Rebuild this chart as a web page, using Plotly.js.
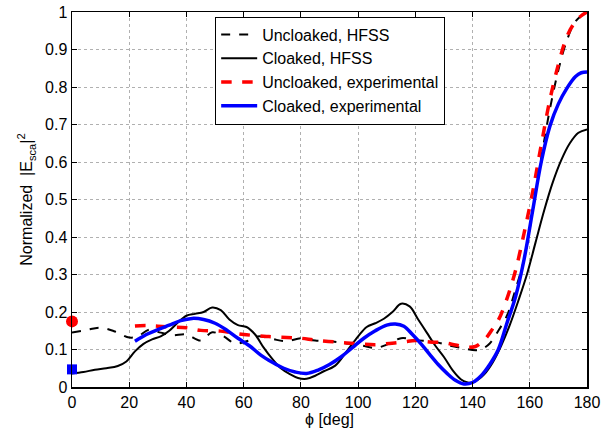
<!DOCTYPE html>
<html>
<head>
<meta charset="utf-8">
<script src="https://cdn.plot.ly/plotly-3.0.1.min.js"></script>
<style>html,body{margin:0;padding:0;background:#fff;}#chart{width:610px;height:428px;}</style>
</head>
<body>
<div id="chart"></div>
<script>
// Uncloaked, HFSS
const uncHfssX = [0,5,10,15,20,23,27,31,35,40,45,49,53,57,61,65,70,75,80,85,90,96,101,106,110,115,120,127,132,137,141,143,146,149,152,155,158,161,164,167,170,173,176,180];
const uncHfssY = [0.145,0.152,0.158,0.148,0.132,0.135,0.153,0.145,0.138,0.14,0.124,0.146,0.135,0.116,0.122,0.135,0.128,0.122,0.13,0.124,0.122,0.116,0.111,0.104,0.113,0.13,0.125,0.12,0.11,0.103,0.098,0.1,0.116,0.15,0.19,0.26,0.34,0.47,0.61,0.74,0.845,0.925,0.975,1.0];
// Cloaked, HFSS
const clkHfssX = [0,4,8,12,16,19,22,25,28,31,34,37,40,43,46,49,52,55,58,61,64,67,70,73,76,79,82,85,88,92,96,100,103,106,109,112,115,118,121,124,127,130,133,136,138,140,142,144,147,150,153,156,159,162,165,168,171,174,177,180];
const clkHfssY = [0.036,0.04,0.046,0.05,0.056,0.068,0.095,0.115,0.127,0.135,0.15,0.172,0.19,0.195,0.2,0.212,0.205,0.18,0.165,0.16,0.14,0.105,0.075,0.05,0.035,0.024,0.022,0.03,0.042,0.057,0.095,0.135,0.16,0.17,0.182,0.2,0.222,0.215,0.18,0.145,0.11,0.08,0.045,0.02,0.013,0.012,0.02,0.033,0.065,0.11,0.165,0.23,0.3,0.385,0.47,0.545,0.605,0.65,0.678,0.687];
// Uncloaked, experimental
const uncExpX = [22,26,30,35,40,45,52,60,68,75,80,85,92,99,106,111,116,120,125,130,134,138,141,143,145,147,149,152,155,158,161,164,167,170,173,176,178,180];
const uncExpY = [0.163,0.164,0.162,0.16,0.158,0.151,0.149,0.14,0.135,0.132,0.13,0.125,0.12,0.116,0.113,0.116,0.12,0.124,0.12,0.118,0.112,0.106,0.108,0.118,0.133,0.155,0.178,0.235,0.31,0.41,0.52,0.645,0.765,0.86,0.935,0.975,0.99,1.0];
// Cloaked, experimental
const clkExpX = [22,26,30,34,38,42,46,50,54,58,62,66,70,74,78,82,86,90,94,98,102,106,110,113,116,119,122,125,128,131,134,137,140,143,146,149,152,155,158,161,164,167,170,173,176,178,180];
const clkExpY = [0.122,0.14,0.153,0.165,0.177,0.183,0.18,0.17,0.152,0.13,0.11,0.085,0.066,0.05,0.04,0.036,0.045,0.06,0.08,0.105,0.13,0.15,0.165,0.168,0.162,0.14,0.115,0.087,0.06,0.037,0.018,0.008,0.012,0.03,0.06,0.1,0.17,0.24,0.34,0.47,0.6,0.695,0.755,0.797,0.828,0.838,0.84];
// Single-point markers at phi = 0
const markerRedX = [0], markerRedY = [0.175];
const markerBlueX = [0], markerBlueY = [0.047];

const names = ['Uncloaked, HFSS','Cloaked, HFSS','Uncloaked, experimental','Cloaked, experimental'];

const traces = [
  {x: uncHfssX, y: uncHfssY, name: names[0], mode:'lines', line:{color:'#000', width:2, dash:'dash', shape:'spline'}},
  {x: clkHfssX, y: clkHfssY, name: names[1], mode:'lines', line:{color:'#000', width:2, shape:'spline'}},
  {x: uncExpX, y: uncExpY, name: names[2], mode:'lines', line:{color:'#ff0000', width:3.5, dash:'dash', shape:'spline'}},
  {x: clkExpX, y: clkExpY, name: names[3], mode:'lines', line:{color:'#0000ff', width:3.5, shape:'spline'}},
  {x: markerRedX, y: markerRedY, mode:'markers', showlegend:false, marker:{color:'#ff0000', size:12, symbol:'circle'}, cliponaxis:false},
  {x: markerBlueX, y: markerBlueY, mode:'markers', showlegend:false, marker:{color:'#0000ff', size:10, symbol:'square'}, cliponaxis:false}
];

const layout = {
  width: 610, height: 428,
  margin: {l:72, r:23, t:12, b:41},
  paper_bgcolor:'#fff', plot_bgcolor:'#fff',
  font: {family:'Liberation Sans, Arial, sans-serif', size:16, color:'#000'},
  showlegend: true,
  legend: {x:0.278, y:0.988, xanchor:'left', yanchor:'top', bgcolor:'#fff', bordercolor:'#000', borderwidth:1,
           font:{size:16}, tracegroupgap:0, itemwidth:36},
  xaxis: {range:[0,180], dtick:20, tick0:0, ticks:'inside', ticklen:5, tickcolor:'#000',
          showline:true, linecolor:'#000', linewidth:1.5, mirror:'ticks',
          showgrid:true, gridcolor:'#b0b0b0', griddash:'dot', gridwidth:1, zeroline:false,
          tickfont:{size:16},
          title:{text:'ϕ [deg]', standoff:0, font:{size:16}}},
  yaxis: {range:[0,1], dtick:0.1, tick0:0, ticks:'inside', ticklen:5, tickcolor:'#000',
          showline:true, linecolor:'#000', linewidth:1.5, mirror:'ticks',
          showgrid:true, gridcolor:'#b0b0b0', griddash:'dot', gridwidth:1, zeroline:false,
          tickfont:{size:16},
          title:{text:'Normalized  |E<sub>sca</sub>|<sup>2</sup>', standoff:8, font:{size:16}}}
};

Plotly.newPlot('chart', traces, layout, {displayModeBar:false, staticPlot:true});
</script>
</body>
</html>
